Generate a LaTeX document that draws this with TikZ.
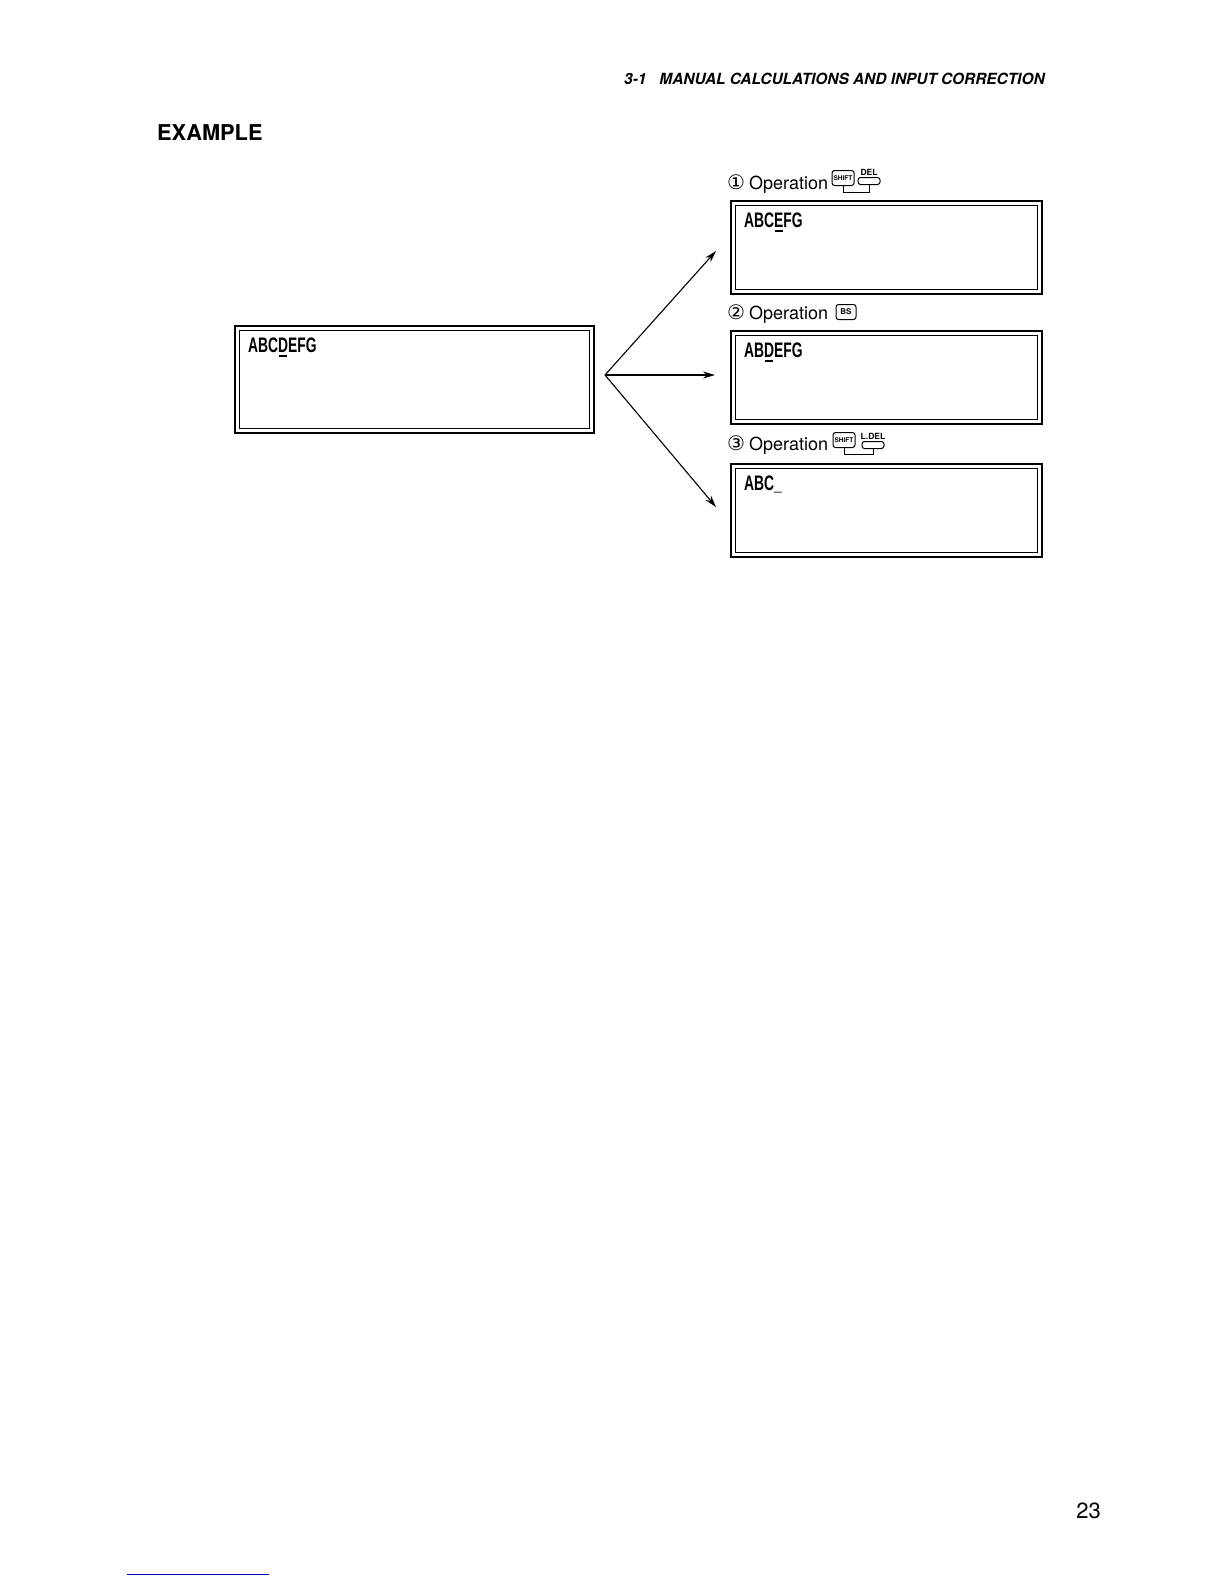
\documentclass[tikz,border=0pt]{standalone}
\usepackage{fontspec,graphicx}
\setmainfont{TeX Gyre Heros}
\newfontfamily\lcdfont{Liberation Sans}
\newfontfamily\dejavu{DejaVu Sans}
\usetikzlibrary{calc,positioning,arrows.meta}
\newcommand\lcd[1]{\scalebox{.66}[1]{\lcdfont\bfseries #1}}
\newcommand\lcdcur[1]{\ooalign{#1\cr\hidewidth\rule[-4pt]{.6em}{2pt}\hidewidth\cr}}
\tikzset{
	screen/.style={draw,line width=1.6pt,minimum width=311pt,minimum height=93pt,anchor=north west,inner sep=0pt},
	shown/.style={anchor=north west,inner sep=0pt,font=\fontsize{21}{21}\selectfont},
	keycap/.style={draw,line width=1pt,rounded corners=2.5pt,inner sep=0pt,minimum width=22pt,minimum height=15pt,font=\fontsize{6.5}{6.5}\selectfont\bfseries},
	keylab/.style={inner sep=1pt,font=\fontsize{8.5}{8.5}\selectfont\bfseries},
	oplabel/.style={anchor=base west,inner sep=0pt,font=\fontsize{18}{18}\selectfont},
	fork/.style={line width=1.1pt,-{Stealth[length=12pt,width=7pt]}}
}
\begin{document}
\begin{tikzpicture}[x=1pt,y=1pt]
	\useasboundingbox (0,0) rectangle (1224,-1584);
	\path
	(605,-375) coordinate (F)
	(716,-251) coordinate (T1)
	(715,-375) coordinate (T2)
	(716,-507) coordinate (T3)
	;
	\node[anchor=base west,inner sep=0pt,font=\fontsize{15.4}{15.4}\selectfont\bfseries\itshape] (head) at (624,-85) {3-1\hspace{13pt}MANUAL CALCULATIONS AND INPUT CORRECTION};
	\node[anchor=base west,inner sep=0pt,font=\fontsize{21.8}{21.8}\selectfont\bfseries] (title) at (157,-140) {EXAMPLE};
	\node[screen,minimum width=359pt,minimum height=107pt] (start) at (234,-325) {};
	\node[screen] (box1) at (730,-200) {};
	\node[screen] (box2) at (730,-330) {};
	\node[screen] (box3) at (730,-463) {};
	\foreach \b in {start,box1,box2,box3} \draw[line width=.6pt] ($(\b.south west)+(5,5)$) rectangle ($(\b.north east)-(5,5)$);
	\foreach \b/\t in {start/{ABC\lcdcur{D}EFG},box1/{ABC\lcdcur{E}FG},box2/{AB\lcdcur{D}EFG},box3/{ABC\_}} \node[shown] (\b txt) at ($(\b.north west)+(14,-13)$) {\lcd{\t}};
	\foreach \t in {1,2,3} \draw[fork] (F) -- (T\t);
	\node[oplabel] (op1) at (727,-189) {{\dejavu\fontsize{20}{20}\selectfont ①}\hspace{4pt}Operation};
	\node[oplabel] (op2) at (727,-319) {{\dejavu\fontsize{20}{20}\selectfont ②}\hspace{4pt}Operation};
	\node[oplabel] (op3) at (727,-450) {{\dejavu\fontsize{20}{20}\selectfont ③}\hspace{4pt}Operation};
	\node[keycap] (shift1) at (843,-178) {SHIFT};
	\node[keycap,minimum height=7pt,label={[keylab]above:DEL}] (del1) at (869,-181) {};
	\draw[line width=1pt] (shift1.south) -- ++(0,-6) -| (del1.south);
	\node[keycap,minimum width=20pt,minimum height=15pt,font=\fontsize{8}{8}\selectfont\bfseries] (bs2) at (846,-312) {BS};
	\node[keycap] (shift3) at (844,-440) {SHIFT};
	\node[keycap,minimum height=7pt,label={[keylab]above:L.DEL}] (ldel3) at (873,-445) {};
	\draw[line width=1pt] (shift3.south) -- ++(0,-6) -| (ldel3.south);
	\node[anchor=base east,inner sep=0pt,font=\fontsize{22}{22}\selectfont] (page) at (1101,-1518) {23};
	\draw[blue!70!black,line width=1pt] (127,-1574) -- (269,-1574);
\end{tikzpicture}
\end{document}
